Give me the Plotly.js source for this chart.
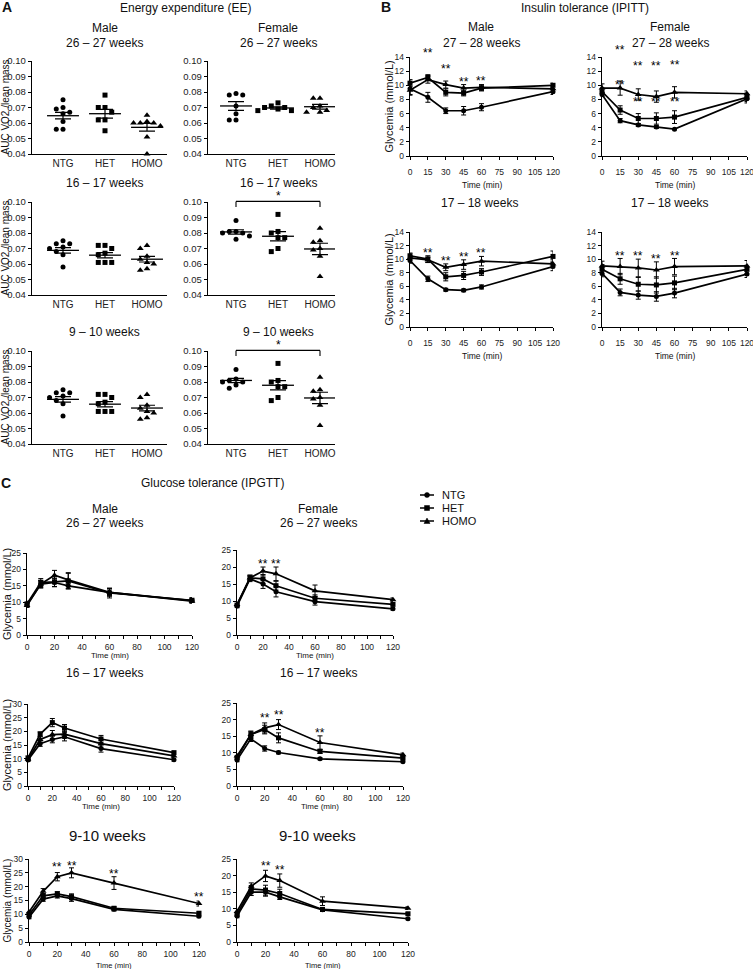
<!DOCTYPE html>
<html><head><meta charset="utf-8">
<script src="https://cdn.plot.ly/plotly-3.0.1.min.js"></script>
<style>html,body{margin:0;padding:0;background:#fff}</style>
</head><body><div id="chart" style="width:753px;height:969px"></div>
<script>
// ================= DATA =================
const groups = ['NTG', 'HET', 'HOMO'];

// ---- A. Energy expenditure (AUC VO2 / lean mass), individual animals ----
const eeM2627_NTG  = [0.075, 0.070, 0.069, 0.067, 0.066, 0.061, 0.056, 0.056];
const eeM2627_HET  = [0.078, 0.070, 0.070, 0.067, 0.062, 0.062, 0.055];
const eeM2627_HOMO = [0.065, 0.061, 0.060, 0.060, 0.060, 0.058, 0.051, 0.040];
const eeM2627_mean = [0.0647, 0.0660, 0.0572];
const eeM2627_sem  = [0.0021, 0.0028, 0.0025];

const eeF2627_NTG  = [0.079, 0.078, 0.078, 0.071, 0.066, 0.062, 0.062];
const eeF2627_HET  = [0.073, 0.071, 0.070, 0.070, 0.069, 0.068, 0.068];
const eeF2627_HOMO = [0.076, 0.076, 0.071, 0.070, 0.068, 0.067, 0.067];
const eeF2627_mean = [0.0710, 0.0697, 0.0705];
const eeF2627_sem  = [0.0028, 0.0007, 0.0015];

const eeM1617_NTG  = [0.075, 0.073, 0.073, 0.071, 0.070, 0.068, 0.066, 0.058];
const eeM1617_HET  = [0.072, 0.072, 0.070, 0.067, 0.066, 0.061, 0.061, 0.061];
const eeM1617_HOMO = [0.072, 0.070, 0.065, 0.063, 0.061, 0.060, 0.057, 0.056];
const eeM1617_mean = [0.0688, 0.0657, 0.0631];
const eeM1617_sem  = [0.0018, 0.0017, 0.0018];

const eeF1617_NTG  = [0.088, 0.081, 0.081, 0.080, 0.080, 0.078, 0.076];
const eeF1617_HET  = [0.092, 0.081, 0.080, 0.077, 0.077, 0.070, 0.068];
const eeF1617_HOMO = [0.083, 0.075, 0.074, 0.070, 0.069, 0.065, 0.052];
const eeF1617_mean = [0.0807, 0.0779, 0.0697];
const eeF1617_sem  = [0.0014, 0.0030, 0.0037];

const eeM910_NTG  = [0.075, 0.073, 0.073, 0.071, 0.070, 0.068, 0.066, 0.058];
const eeM910_HET  = [0.072, 0.072, 0.070, 0.067, 0.066, 0.061, 0.061, 0.061];
const eeM910_HOMO = [0.072, 0.070, 0.065, 0.063, 0.061, 0.060, 0.057, 0.056];
const eeM910_mean = [0.0688, 0.0657, 0.0632];
const eeM910_sem  = [0.0018, 0.0017, 0.0018];

const eeF910_NTG  = [0.088, 0.082, 0.081, 0.080, 0.080, 0.078, 0.076];
const eeF910_HET  = [0.092, 0.081, 0.080, 0.077, 0.077, 0.070, 0.068];
const eeF910_HOMO = [0.083, 0.075, 0.074, 0.070, 0.069, 0.065, 0.052];
const eeF910_mean = [0.0810, 0.0779, 0.0697];
const eeF910_sem  = [0.0014, 0.0030, 0.0037];

// ---- B. Insulin tolerance (IPITT), glycemia mmol/L ----
const ipittTime = [0, 15, 30, 45, 60, 120];
const ipittTicks = [0, 15, 30, 45, 60, 75, 90, 105, 120];

const ipM2728_NTG  = [9.5, 8.3, 6.4, 6.4, 6.9, 9.1];
const ipM2728_NTGe = [0.9, 0.7, 0.4, 0.6, 0.5, 0.4];
const ipM2728_HET  = [10.3, 11.1, 9.0, 8.9, 9.6, 10.0];
const ipM2728_HETe = [0.5, 0.4, 0.5, 0.4, 0.4, 0.3];
const ipM2728_HOMO  = [9.3, 10.8, 10.1, 9.6, 9.7, 9.5];
const ipM2728_HOMOe = [0.6, 0.5, 0.5, 0.5, 0.4, 0.3];
const ipM2728_sigT = [15, 30, 45, 60];
const ipM2728_sigY = [15.0, 12.7, 10.9, 11.0];

const ipF2728_NTG  = [8.7, 5.0, 4.4, 4.1, 3.8, 8.1];
const ipF2728_NTGe = [0.3, 0.3, 0.2, 0.2, 0.1, 0.6];
const ipF2728_HET  = [9.1, 6.5, 5.3, 5.3, 5.5, 8.3];
const ipF2728_HETe = [0.5, 0.6, 0.7, 0.8, 0.9, 0.6];
const ipF2728_HOMO  = [9.6, 9.6, 8.7, 8.4, 9.0, 8.8];
const ipF2728_HOMOe = [0.6, 1.0, 0.8, 0.8, 0.8, 0.4];
const ipF2728_sigT = [15, 30, 45, 60, 15, 30, 45, 60];
const ipF2728_sigY = [15.4, 13.1, 13.2, 13.3, 10.5, 8.0, 8.0, 8.1];

const ipM1718_NTG  = [9.8, 7.1, 5.5, 5.4, 5.9, 8.9];
const ipM1718_NTGe = [0.4, 0.4, 0.2, 0.2, 0.3, 0.6];
const ipM1718_HET  = [10.5, 10.0, 7.4, 7.6, 8.1, 10.4];
const ipM1718_HETe = [0.4, 0.5, 0.6, 0.6, 0.5, 0.8];
const ipM1718_HOMO  = [10.2, 9.9, 8.8, 9.2, 9.7, 9.3];
const ipM1718_HOMOe = [0.3, 0.4, 0.5, 0.7, 0.7, 0.6];
const ipM1718_sigT = [15, 30, 45, 60];
const ipM1718_sigY = [11.4, 10.2, 10.7, 11.3];

const ipF1718_NTG  = [7.9, 5.1, 4.7, 4.5, 5.0, 7.8];
const ipF1718_NTGe = [0.5, 0.5, 0.6, 0.7, 0.7, 0.5];
const ipF1718_HET  = [8.5, 7.1, 6.3, 6.2, 6.5, 8.5];
const ipF1718_HETe = [0.7, 0.8, 1.0, 1.2, 1.0, 0.6];
const ipF1718_HOMO  = [9.0, 8.9, 8.7, 8.4, 8.9, 9.0];
const ipF1718_HOMOe = [0.7, 1.2, 1.3, 1.2, 1.2, 0.8];
const ipF1718_sigT = [15, 30, 45, 60];
const ipF1718_sigY = [10.9, 10.9, 10.5, 10.9];

// ---- C. Glucose tolerance (IPGTT), glycemia mmol/L ----
const ipgttTime = [0, 10, 20, 30, 60, 120];

const gtM2627_NTG  = [9.2, 15.5, 16.0, 15.0, 13.0, 10.5];
const gtM2627_NTGe = [0.6, 1.0, 1.2, 0.8, 1.0, 0.6];
const gtM2627_HET  = [9.5, 16.0, 16.2, 16.5, 12.8, 10.6];
const gtM2627_HETe = [0.8, 1.2, 1.5, 2.5, 1.5, 0.8];
const gtM2627_HOMO  = [9.0, 15.5, 18.2, 16.8, 13.0, 10.3];
const gtM2627_HOMOe = [0.6, 1.2, 1.5, 2.0, 1.2, 0.6];
const gtM2627_sigT = [];
const gtM2627_sigY = [];

const gtF2627_NTG  = [8.5, 16.5, 15.0, 12.7, 9.8, 7.7];
const gtF2627_NTGe = [0.5, 0.8, 1.3, 1.5, 1.0, 0.4];
const gtF2627_HET  = [8.8, 16.8, 16.5, 14.5, 10.8, 9.0];
const gtF2627_HETe = [0.5, 0.8, 1.3, 1.3, 1.0, 0.4];
const gtF2627_HOMO  = [9.0, 16.8, 18.8, 18.0, 13.0, 10.4];
const gtF2627_HOMOe = [0.5, 0.8, 1.2, 2.0, 1.7, 0.5];
const gtF2627_sigT = [20, 30];
const gtF2627_sigY = [21.8, 21.8];

const gtM1617_NTG  = [9.5, 15.5, 17.0, 18.0, 13.7, 9.6];
const gtM1617_NTGe = [0.5, 1.0, 1.2, 1.5, 1.3, 0.5];
const gtM1617_HET  = [10.3, 19.0, 23.2, 21.2, 17.2, 12.2];
const gtM1617_HETe = [0.6, 0.8, 1.5, 1.3, 1.3, 0.5];
const gtM1617_HOMO  = [9.8, 17.0, 18.8, 19.0, 15.5, 11.0];
const gtM1617_HOMOe = [0.5, 1.0, 1.5, 1.5, 1.3, 0.6];
const gtM1617_sigT = [];
const gtM1617_sigY = [];

const gtF1617_NTG  = [7.8, 14.2, 11.3, 10.1, 8.2, 7.3];
const gtF1617_NTGe = [0.5, 0.8, 0.8, 0.4, 0.3, 0.3];
const gtF1617_HET  = [8.5, 15.5, 17.0, 14.5, 10.4, 8.4];
const gtF1617_HETe = [0.6, 1.0, 1.3, 1.5, 0.6, 0.4];
const gtF1617_HOMO  = [9.0, 15.5, 17.5, 18.5, 13.1, 9.4];
const gtF1617_HOMOe = [0.6, 1.0, 1.5, 1.5, 2.0, 0.5];
const gtF1617_sigT = [20, 30, 60];
const gtF1617_sigY = [21.4, 22.4, 16.9];

const gtM910_NTG  = [9.0, 15.5, 16.7, 15.7, 11.8, 9.3];
const gtM910_NTGe = [0.6, 0.8, 0.8, 1.0, 0.6, 0.5];
const gtM910_HET  = [9.8, 16.7, 17.4, 16.4, 12.2, 10.4];
const gtM910_HETe = [0.6, 0.8, 0.8, 1.0, 0.6, 0.5];
const gtM910_HOMO  = [10.8, 18.3, 23.6, 25.0, 21.3, 13.9];
const gtM910_HOMOe = [0.6, 1.0, 1.5, 1.8, 2.3, 0.9];
const gtM910_sigT = [20, 30, 60, 120];
const gtM910_sigY = [28.1, 28.7, 25.8, 17.3];

const gtF910_NTG  = [7.8, 15.0, 15.0, 13.6, 9.7, 7.0];
const gtF910_NTGe = [0.5, 1.0, 1.2, 0.8, 0.5, 0.3];
const gtF910_HET  = [8.3, 16.0, 15.6, 14.6, 9.8, 8.5];
const gtF910_HETe = [0.5, 1.0, 1.5, 1.3, 0.6, 0.4];
const gtF910_HOMO  = [9.2, 16.8, 19.9, 18.5, 12.3, 10.2];
const gtF910_HOMOe = [0.6, 1.0, 1.7, 2.0, 1.3, 0.4];
const gtF910_sigT = [20, 30];
const gtF910_sigY = [23.9, 22.5];

// ================= DRAWING =================
const W = 753, H = 969;
const FONT = 'Liberation Sans, Arial, sans-serif';
const px = x => x / W;
const py = y => 1 - y / H;
const symbols = ['circle', 'square', 'triangle-up'];
const msize = [5, 5, 6];

const traces = [];
const layout = {
  width: W, height: H,
  margin: {l: 0, r: 0, t: 0, b: 0},
  paper_bgcolor: '#fff', plot_bgcolor: 'rgba(0,0,0,0)',
  showlegend: false,
  font: {family: FONT, color: '#000'},
  annotations: [], shapes: []
};

function ann(text, x, y, size, opts) {
  layout.annotations.push(Object.assign({
    text: text, x: px(x), y: py(y), xref: 'paper', yref: 'paper',
    showarrow: false, xanchor: 'center', yanchor: 'middle',
    font: {family: FONT, size: size, color: '#111'}
  }, opts || {}));
}

let axisCount = 0;
function makeAxes(box, xopt, yopt) {
  axisCount++;
  const k = axisCount;
  const xn = k === 1 ? 'xaxis' : 'xaxis' + k;
  const yn = k === 1 ? 'yaxis' : 'yaxis' + k;
  const xr = k === 1 ? 'x' : 'x' + k;
  const yr = k === 1 ? 'y' : 'y' + k;
  const base = {
    showgrid: false, zeroline: false, showline: true, linecolor: '#000', linewidth: 1.3,
    ticks: 'outside', ticklen: 3, tickwidth: 1, tickcolor: '#000', mirror: false,
    ticklabeloverflow: 'allow',
    tickfont: {family: FONT, size: 9, color: '#222'}, fixedrange: true
  };
  layout[xn] = Object.assign({}, base, {domain: [px(box.l), px(box.r)], anchor: yr}, xopt);
  layout[yn] = Object.assign({}, base, {domain: [py(box.b), py(box.t)], anchor: xr}, yopt);
  return {x: xr, y: yr, yn: yn};
}

// convert a value on a y axis to paper fraction (for decorations that may sit above the axis range)
function yPaper(ax, v) {
  const a = layout[ax.yn];
  return a.domain[0] + (v - a.range[0]) / (a.range[1] - a.range[0]) * (a.domain[1] - a.domain[0]);
}

// ---------- Panel A ----------
function beeswarm(vals, dx, tolY) {
  const idx = vals.map((v, i) => i).sort((a, b) => vals[b] - vals[a]);
  const placed = [];
  const offs = new Array(vals.length).fill(0);
  const cands = [0, -dx, dx, -2 * dx, 2 * dx, -3 * dx, 3 * dx];
  idx.forEach(i => {
    for (const c of cands) {
      const clash = placed.some(p => Math.abs(p.y - vals[i]) < tolY && Math.abs(p.x - c) < dx * 0.9);
      if (!clash) { offs[i] = c; placed.push({x: c, y: vals[i]}); break; }
    }
  });
  return offs;
}

function eePanel(box, c0, seriesList, mean, sem, bracket) {
  const sp = 42;
  const ax = makeAxes(box,
    {range: [(box.l - c0) / sp, (box.r - c0) / sp], tickvals: [0, 1, 2], ticktext: groups,
     ticks: '', tickfont: {family: FONT, size: 10, color: '#222'}},
    {range: [0.04, 0.10], tickvals: [0.04, 0.05, 0.06, 0.07, 0.08, 0.09, 0.10], tickformat: '.2f',
     tickfont: {family: FONT, size: 9.5, color: '#222'}});
  seriesList.forEach((vals, g) => {
    const offs = beeswarm(vals, 0.16, 0.0034);
    traces.push({
      type: 'scatter', mode: 'markers', xaxis: ax.x, yaxis: ax.y, cliponaxis: false,
      x: vals.map((v, i) => g + offs[i]), y: vals,
      marker: {symbol: symbols[g], size: msize[g], color: '#000'}, hoverinfo: 'skip'
    });
    traces.push({
      type: 'scatter', mode: 'lines', xaxis: ax.x, yaxis: ax.y,
      x: [g - 0.38, g + 0.38], y: [mean[g], mean[g]],
      line: {color: '#000', width: 1.3}, hoverinfo: 'skip'
    });
    traces.push({
      type: 'scatter', mode: 'markers', xaxis: ax.x, yaxis: ax.y,
      x: [g], y: [mean[g]], marker: {size: 1, opacity: 0},
      error_y: {type: 'data', array: [sem[g]], color: '#000', thickness: 1.2, width: 8},
      hoverinfo: 'skip'
    });
  });
  if (bracket) {
    const yTop = yPaper(ax, 0.1004), yLeg = yPaper(ax, 0.0968);
    const ln = {color: '#000', width: 1.1};
    layout.shapes.push({type: 'line', xref: ax.x, yref: 'paper', x0: 0, x1: 0, y0: yLeg, y1: yTop, line: ln});
    layout.shapes.push({type: 'line', xref: ax.x, yref: 'paper', x0: 0, x1: 2, y0: yTop, y1: yTop, line: ln});
    layout.shapes.push({type: 'line', xref: ax.x, yref: 'paper', x0: 2, x1: 2, y0: yLeg, y1: yTop, line: ln});
    layout.annotations.push({text: '*', x: 1, y: yPaper(ax, 0.1058), xref: ax.x, yref: 'paper',
      xanchor: 'center', yanchor: 'middle',
      showarrow: false, yshift: -3, font: {family: FONT, size: 12, color: '#000'}});
  }
}

const aCols = [{l: 32, r: 167, c0: 63}, {l: 208, r: 335, c0: 236}];
const aRows = [{t: 61, b: 154}, {t: 202, b: 295}, {t: 351, b: 444}];
const eeData = [
  [[eeM2627_NTG, eeM2627_HET, eeM2627_HOMO], eeM2627_mean, eeM2627_sem, false],
  [[eeF2627_NTG, eeF2627_HET, eeF2627_HOMO], eeF2627_mean, eeF2627_sem, false],
  [[eeM1617_NTG, eeM1617_HET, eeM1617_HOMO], eeM1617_mean, eeM1617_sem, false],
  [[eeF1617_NTG, eeF1617_HET, eeF1617_HOMO], eeF1617_mean, eeF1617_sem, true],
  [[eeM910_NTG, eeM910_HET, eeM910_HOMO], eeM910_mean, eeM910_sem, false],
  [[eeF910_NTG, eeF910_HET, eeF910_HOMO], eeF910_mean, eeF910_sem, true]
];
eeData.forEach((d, i) => {
  const r = aRows[Math.floor(i / 2)], c = aCols[i % 2];
  eePanel({l: c.l, r: c.r, t: r.t, b: r.b}, c.c0, d[0], d[1], d[2], d[3]);
  if (i % 2 === 0) {
    ann('AUC VO2 /lean mass', 5, (r.t + r.b) / 2, 10, {textangle: -90});
  }
});

// ---------- Panels B & C (time courses) ----------
function timePanel(box, times, series, errs, yr, xopt, sig, tickSize) {
  const ax = makeAxes(box,
    Object.assign({range: [0, 120], tickfont: {family: FONT, size: tickSize, color: '#222'}}, xopt),
    {range: yr, dtick: yr[1] > 15 ? 5 : 2, tick0: 0, tickfont: {family: FONT, size: tickSize, color: '#222'}});
  series.forEach((vals, g) => {
    traces.push({
      type: 'scatter', mode: 'lines+markers', xaxis: ax.x, yaxis: ax.y, cliponaxis: false,
      name: groups[g], x: times, y: vals,
      line: {color: '#000', width: 1.7},
      marker: {symbol: symbols[g], size: msize[g], color: '#000'},
      error_y: {type: 'data', array: errs[g], color: '#000', thickness: 1, width: 2.5},
      hoverinfo: 'skip'
    });
  });
  sig[0].forEach((t, i) => {
    layout.annotations.push({text: '**', x: t, y: yPaper(ax, sig[1][i]), xref: ax.x, yref: 'paper',
      xanchor: 'center', yanchor: 'middle',
      showarrow: false, yshift: -3, font: {family: FONT, size: 12, color: '#000'}});
  });
}

const bX = {tickvals: ipittTicks};
const bBoxes = [
  {l: 410, r: 553, t: 57, b: 156}, {l: 602, r: 747, t: 57, b: 156},
  {l: 410, r: 553, t: 232, b: 327}, {l: 602, r: 747, t: 232, b: 327}
];
const bData = [
  [[ipM2728_NTG, ipM2728_HET, ipM2728_HOMO], [ipM2728_NTGe, ipM2728_HETe, ipM2728_HOMOe], [ipM2728_sigT, ipM2728_sigY]],
  [[ipF2728_NTG, ipF2728_HET, ipF2728_HOMO], [ipF2728_NTGe, ipF2728_HETe, ipF2728_HOMOe], [ipF2728_sigT, ipF2728_sigY]],
  [[ipM1718_NTG, ipM1718_HET, ipM1718_HOMO], [ipM1718_NTGe, ipM1718_HETe, ipM1718_HOMOe], [ipM1718_sigT, ipM1718_sigY]],
  [[ipF1718_NTG, ipF1718_HET, ipF1718_HOMO], [ipF1718_NTGe, ipF1718_HETe, ipF1718_HOMOe], [ipF1718_sigT, ipF1718_sigY]]
];
bData.forEach((d, i) => {
  const b = bBoxes[i];
  timePanel(b, ipittTime, d[0], d[1], [0, 14], Object.assign({ticklabelstandoff: 4}, bX), d[2], 8.5);
  ann('Time (min)', (b.l + b.r) / 2, b.b + 29, 8.5);
  if (i % 2 === 0) ann('Glycemia (mmol/L)', 388, (b.t + b.b) / 2, 11, {textangle: -90});
});

const cX = {dtick: 20, tick0: 0, minor: {dtick: 10, ticks: 'outside', ticklen: 3, tickcolor: '#000'}};
const cBoxes = [
  {l: 27, r: 192, t: 553, b: 635}, {l: 237, r: 393, t: 550, b: 635},
  {l: 28, r: 174, t: 704, b: 786}, {l: 237, r: 403, t: 703, b: 786},
  {l: 29, r: 199, t: 859, b: 942}, {l: 237, r: 408, t: 859, b: 942}
];
const cYr = [[0, 25], [0, 25], [0, 30], [0, 25], [0, 30], [0, 25]];
const cData = [
  [[gtM2627_NTG, gtM2627_HET, gtM2627_HOMO], [gtM2627_NTGe, gtM2627_HETe, gtM2627_HOMOe], [gtM2627_sigT, gtM2627_sigY]],
  [[gtF2627_NTG, gtF2627_HET, gtF2627_HOMO], [gtF2627_NTGe, gtF2627_HETe, gtF2627_HOMOe], [gtF2627_sigT, gtF2627_sigY]],
  [[gtM1617_NTG, gtM1617_HET, gtM1617_HOMO], [gtM1617_NTGe, gtM1617_HETe, gtM1617_HOMOe], [gtM1617_sigT, gtM1617_sigY]],
  [[gtF1617_NTG, gtF1617_HET, gtF1617_HOMO], [gtF1617_NTGe, gtF1617_HETe, gtF1617_HOMOe], [gtF1617_sigT, gtF1617_sigY]],
  [[gtM910_NTG, gtM910_HET, gtM910_HOMO], [gtM910_NTGe, gtM910_HETe, gtM910_HOMOe], [gtM910_sigT, gtM910_sigY]],
  [[gtF910_NTG, gtF910_HET, gtF910_HOMO], [gtF910_NTGe, gtF910_HETe, gtF910_HOMOe], [gtF910_sigT, gtF910_sigY]]
];
cData.forEach((d, i) => {
  const b = cBoxes[i];
  timePanel(b, ipgttTime, d[0], d[1], cYr[i], cX, d[2], 8.5);
  ann('Time (min)', (b.l + b.r) / 2, b.b + (i < 4 ? 20 : 23), i < 4 ? 8 : 7.5);
  if (i % 2 === 0) ann('Glycemia (mmol/L)', 7, (b.t + b.b) / 2, i < 4 ? 11 : 10, {textangle: -90});
});

// ---------- Titles ----------
ann('<b>A</b>', 7, 7, 14);
ann('Energy expenditure (EE)', 185, 8, 12);
ann('Male', 105, 28, 12); ann('26 – 27 weeks', 105, 43, 12);
ann('Female', 278, 28, 12); ann('26 – 27 weeks', 278, 43, 12);
ann('16 – 17 weeks', 105, 183, 12); ann('16 – 17 weeks', 278, 183, 12);
ann('9 – 10 weeks', 105, 332, 12); ann('9 – 10 weeks', 278, 332, 12);

ann('<b>B</b>', 386, 7, 14);
ann('Insulin tolerance (IPITT)', 585, 8, 12);
ann('Male', 481, 27, 12); ann('27 – 28 weeks', 481, 43, 12);
ann('Female', 670, 27, 12); ann('27 – 28 weeks', 670, 43, 12);
ann('17 – 18 weeks', 479, 203, 12); ann('17 – 18 weeks', 669, 203, 12);

ann('<b>C</b>', 6, 483, 14);
ann('Glucose tolerance (IPGTT)', 212, 483, 12);
ann('Male', 105, 509, 12); ann('26 – 27 weeks', 105, 523, 12);
ann('Female', 318, 509, 12); ann('26 – 27 weeks', 318, 523, 12);
ann('16 – 17 weeks', 105, 673, 12); ann('16 – 17 weeks', 318, 673, 12);
ann('9-10 weeks', 107, 835, 15); ann('9-10 weeks', 317, 835, 15);

// ---------- Legend (Panel C) ----------
groups.forEach((g, i) => {
  const y = 495 + 13 * i;
  layout.shapes.push({type: 'line', xref: 'paper', yref: 'paper',
    x0: px(420), x1: px(434), y0: py(y), y1: py(y), line: {color: '#000', width: 1.5}});
  if (i === 0) {
    layout.shapes.push({type: 'circle', xref: 'paper', yref: 'paper',
      x0: px(424.5), x1: px(429.5), y0: py(y + 2.5), y1: py(y - 2.5),
      fillcolor: '#000', line: {color: '#000', width: 0.5}});
  } else if (i === 1) {
    layout.shapes.push({type: 'rect', xref: 'paper', yref: 'paper',
      x0: px(424.5), x1: px(429.5), y0: py(y + 2.5), y1: py(y - 2.5),
      fillcolor: '#000', line: {color: '#000', width: 0.5}});
  } else {
    layout.shapes.push({type: 'path', xref: 'paper', yref: 'paper',
      path: `M ${px(424)},${py(y + 2.5)} L ${px(430)},${py(y + 2.5)} L ${px(427)},${py(y - 3)} Z`,
      fillcolor: '#000', line: {color: '#000', width: 0.5}});
  }
  ann(g, 440, y, 11, {xanchor: 'left'});
});

Plotly.newPlot('chart', traces, layout, {staticPlot: true, displayModeBar: false});
</script></body></html>
